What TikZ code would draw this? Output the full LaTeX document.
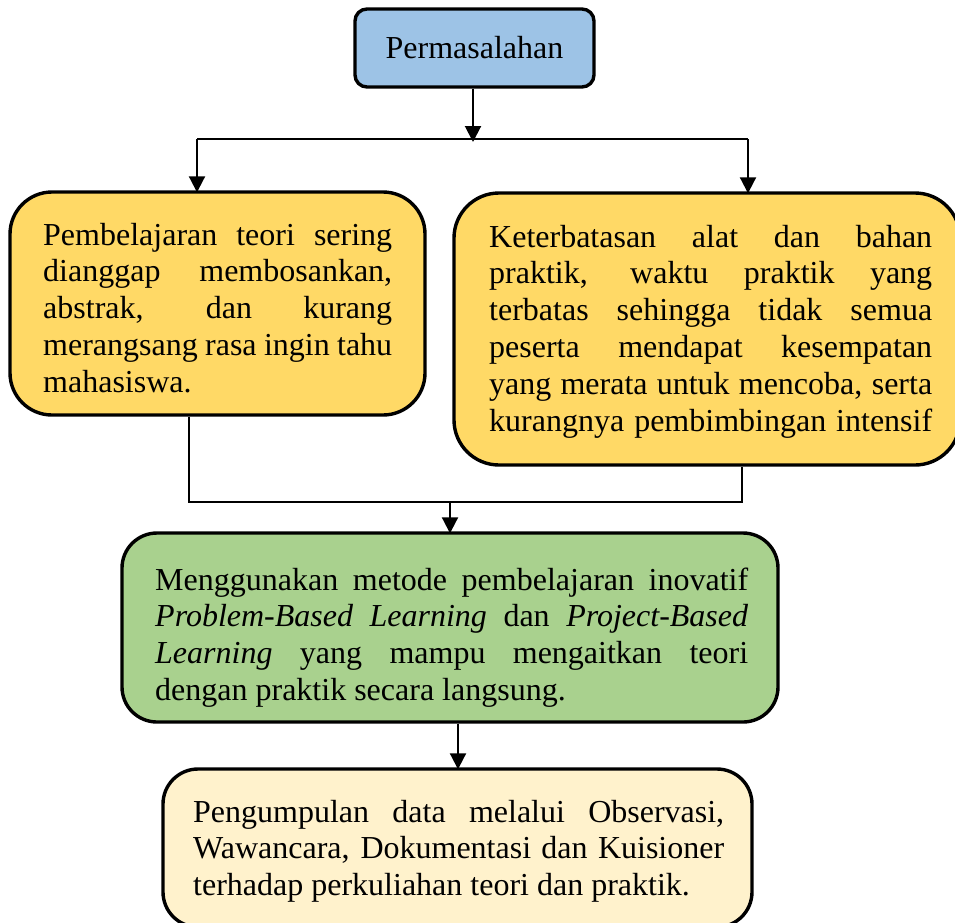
\documentclass[tikz,border=0pt]{standalone}
\usepackage{fontspec}
\setmainfont{Liberation Serif}
\usetikzlibrary{arrows.meta}
\definecolor{cblue}{HTML}{9DC3E6}
\definecolor{cyel}{HTML}{FFD966}
\definecolor{cgreen}{HTML}{A9D18E}
\definecolor{clight}{HTML}{FFF2CC}
\newcommand{\jl}[1]{\makebox[\linewidth][s]{#1}\\}
\tikzset{
  boxbase/.style={draw=black, line width=3.4pt, rectangle, inner sep=0pt},
  txt/.style={inner sep=0pt, anchor=base west, font=\fontsize{32}{36.8}\selectfont},
  conn/.style={draw=black, line width=2pt},
  arr/.style={conn, -{Triangle[length=16pt,width=16pt]}},
}
\begin{document}
\begin{tikzpicture}[x=1pt,y=-1pt]
\useasboundingbox (0,0) rectangle (955,922);
\begin{scope}
\clip (0,0) rectangle (955,922);
% boxes
\node[boxbase, fill=cblue, rounded corners=12pt, minimum width=239pt, minimum height=78pt,
  font=\fontsize{32}{36.8}\selectfont] (perm) at (474.5,48) {Permasalahan};
\node[boxbase, fill=cyel, rounded corners=42pt, minimum width=415pt, minimum height=223pt] (left) at (217.5,303.5) {};
\node[boxbase, fill=cyel, rounded corners=45pt, minimum width=506pt, minimum height=272pt] (right) at (707,329) {};
\node[boxbase, fill=cgreen, rounded corners=35pt, minimum width=656pt, minimum height=189pt] (green) at (450,627.5) {};
\node[boxbase, fill=clight, rounded corners=35pt, minimum width=589pt, minimum height=158pt] (final) at (457.5,848) {};
% texts
\node[txt] (lefttext) at (43,245) {\parbox[t]{349pt}{%
\jl{Pembelajaran teori sering}
\jl{dianggap membosankan,}
\jl{abstrak, dan kurang}
\jl{merangsang rasa ingin tahu}
mahasiswa.}};
\node[txt] (righttext) at (489,247) {\parbox[t]{443pt}{%
\jl{Keterbatasan alat dan bahan}
\jl{praktik, waktu praktik yang}
\jl{terbatas sehingga tidak semua}
\jl{peserta mendapat kesempatan}
\jl{yang merata untuk mencoba, serta}
\makebox[\linewidth][s]{kurangnya pembimbingan intensif}}};
\node[txt] (greentext) at (155,590) {\parbox[t]{593pt}{%
\jl{Menggunakan metode pembelajaran inovatif}
\jl{\textit{Problem-Based Learning} dan \textit{Project-Based}}
\jl{\textit{Learning} yang mampu mengaitkan teori}
dengan praktik secara langsung.}};
\node[txt] (finaltext) at (193,822) {\parbox[t]{531pt}{%
\jl{Pengumpulan data melalui Observasi,}
\jl{Wawancara, Dokumentasi dan Kuisioner}
terhadap perkuliahan teori dan praktik.}};
% connectors
\coordinate (split) at (473,139);
\coordinate (sl) at (197,139);
\coordinate (sr) at (748,139);
\coordinate (ml) at (189,502);
\coordinate (mr) at (742,502);
\coordinate (mm) at (450,502);
\coordinate (gb) at (458,722);
\draw[arr] (perm.south -| split) -- ([yshift=-3pt]split);
\draw[conn] (sl) -- (sr);
\draw[arr] (sl) -- ([yshift=-2pt]left.north -| sl);
\draw[arr] (sr) -- ([yshift=-2pt]right.north -| sr);
\draw[conn] (left.south -| ml) -- (ml) -- (mr) -- (right.south -| mr);
\draw[arr] (mm) -- ([yshift=-2pt]green.north -| mm);
\draw[arr] (green.south -| gb) -- ([yshift=-2pt]final.north -| gb);
\end{scope}
\end{tikzpicture}
\end{document}
